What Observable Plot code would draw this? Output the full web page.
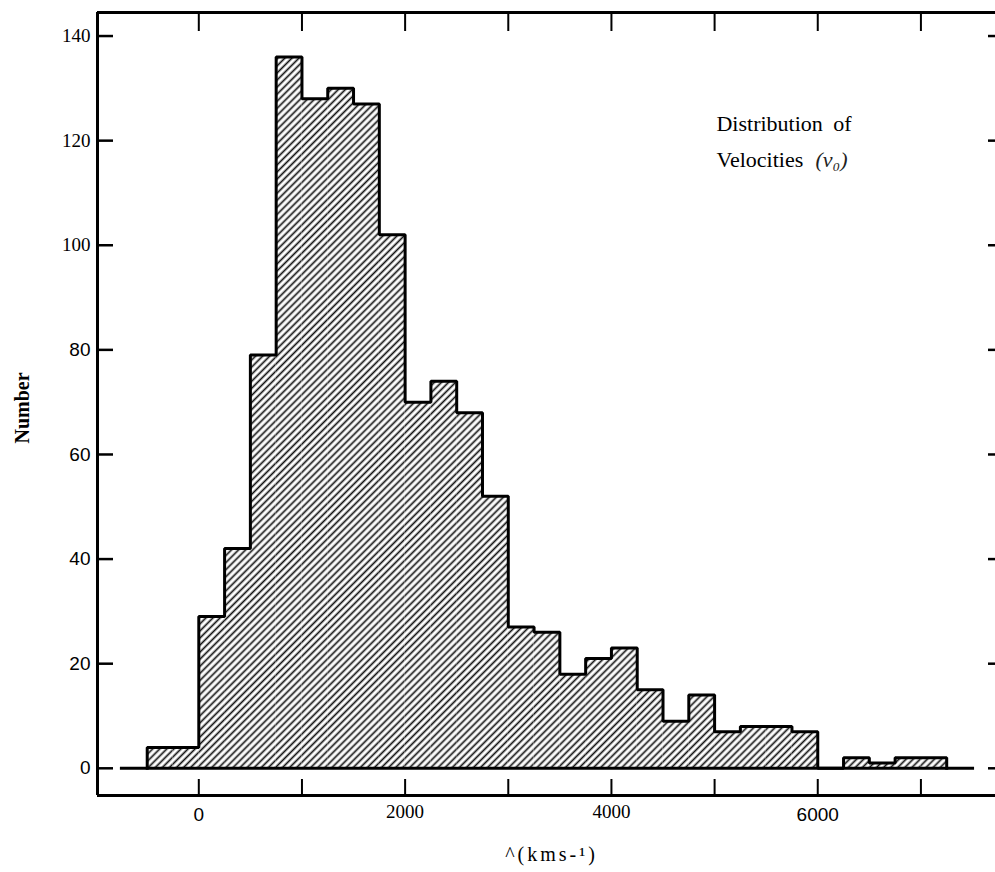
<!DOCTYPE html>
<html>
<head>
<meta charset="utf-8">
<script src="https://cdn.jsdelivr.net/npm/d3@7"></script>
<script src="https://cdn.jsdelivr.net/npm/@observablehq/plot@0.6"></script>
<style>
  html, body { margin: 0; padding: 0; background: #fff; }
  #chart svg { display: block; }
</style>
</head>
<body>
<div id="chart"></div>
<script>
// ---- data ----
const binStarts = [-500, -250, 0, 250, 500, 750, 1000, 1250, 1500, 1750, 2000, 2250, 2500, 2750, 3000, 3250, 3500, 3750, 4000, 4250, 4500, 4750, 5000, 5250, 5500, 5750, 6000, 6250, 6500, 6750, 7000];
const binEnds   = [-250, 0, 250, 500, 750, 1000, 1250, 1500, 1750, 2000, 2250, 2500, 2750, 3000, 3250, 3500, 3750, 4000, 4250, 4500, 4750, 5000, 5250, 5500, 5750, 6000, 6250, 6500, 6750, 7000, 7250];
const counts    = [4, 4, 29, 42, 79, 136, 128, 130, 127, 102, 70, 74, 68, 52, 27, 26, 18, 21, 23, 15, 9, 14, 7, 8, 8, 7, 0, 2, 1, 2, 2];

const yTicks = [0, 20, 40, 60, 80, 100, 120, 140];
const yTickLabelsSans = [0, 20, 40, 60, 80];
const yTickLabelsSerif = [100, 120, 140];
const xTicks = [0, 1000, 2000, 3000, 4000, 5000, 6000, 7000];
const xTickLabelsSans = [0, 6000];
const xTickLabelsSerif = [2000, 4000];

const xLabel = "^(kms-\u00B9)";
const yLabel = "Number";
const noteLine1 = "Distribution of";
const noteLine2a = "Velocities";
const noteLine2b = "(v\u2080)";

// ---- layout ----
const xDomain = [-982, 7723];
const yDomain = [-5.2, 144.5];
const baselineExtent = [-760, 7520];
const noteX = 5018;
const noteY1 = 123.1;
const noteY2 = 116.4;

const serif = "'Liberation Serif', 'Times New Roman', Times, serif";
const sans = "'Liberation Sans', Arial, Helvetica, sans-serif";

const bins = binStarts.map((s, i) => ({x1: s, x2: binEnds[i], n: counts[i]}));
const outline = [{x: binStarts[0], y: 0}];
bins.forEach(b => { outline.push({x: b.x1, y: b.n}); outline.push({x: b.x2, y: b.n}); });
outline.push({x: binEnds[binEnds.length - 1], y: 0});

const chart = Plot.plot({
  width: 995,
  height: 872,
  marginLeft: 97,
  marginRight: 0,
  marginTop: 12,
  marginBottom: 77,
  x: {domain: xDomain},
  y: {domain: yDomain},
  style: {background: "#fff", color: "#000", fontFamily: serif},
  marks: [
    Plot.rectY(bins, {x1: "x1", x2: "x2", y: "n", fill: "url(#hatch)"}),
    Plot.line(outline, {x: "x", y: "y", stroke: "#000", strokeWidth: 3, strokeLinejoin: "miter", strokeLinecap: "square"}),
    Plot.ruleY([0], {x1: baselineExtent[0], x2: baselineExtent[1], stroke: "#000", strokeWidth: 3}),
    // frame (left, bottom, top)
    Plot.ruleX([xDomain[0]], {y1: yDomain[0], y2: yDomain[1], stroke: "#000", strokeWidth: 3}),
    Plot.ruleY([yDomain[0], yDomain[1]], {stroke: "#000", strokeWidth: 3}),
    // inward ticks
    Plot.axisY(yTicks, {anchor: "left", tickSize: -16, tickFormat: () => "", strokeWidth: 2.5, label: null}),
    Plot.axisY(yTicks, {anchor: "right", tickSize: -8, tickFormat: () => "", strokeWidth: 2.5, label: null}),
    Plot.axisX(xTicks, {anchor: "bottom", tickSize: -16, tickFormat: () => "", strokeWidth: 2, label: null}),
    Plot.axisX(xTicks, {anchor: "top", tickSize: -18, tickFormat: () => "", strokeWidth: 2, label: null}),
    // tick labels
    Plot.axisY(yTickLabelsSans, {anchor: "left", tickSize: 0, tickPadding: 7, fontSize: 19, fontFamily: sans, tickFormat: "d", label: null}),
    Plot.axisY(yTickLabelsSerif, {anchor: "left", tickSize: 0, tickPadding: 7, fontSize: 19, fontFamily: serif, tickFormat: "d", label: null}),
    Plot.axisX(xTickLabelsSans, {anchor: "bottom", tickSize: 0, tickPadding: 12, fontSize: 19, fontFamily: sans, tickFormat: "d", label: null}),
    Plot.axisX(xTickLabelsSerif, {anchor: "bottom", tickSize: 0, tickPadding: 9, fontSize: 19, fontFamily: serif, tickFormat: "d", label: null}),
    // axis titles
    Plot.text([yLabel], {frameAnchor: "left", textAnchor: "middle", lineAnchor: "middle", rotate: -90, dx: -75, dy: 4, fontSize: 20, fontWeight: "bold", fontFamily: serif, fill: "#000"}),
    Plot.text([xLabel], {frameAnchor: "bottom", textAnchor: "middle", lineAnchor: "middle", dx: 5, dy: 59, fontSize: 20, fontFamily: serif, fill: "#000"}),
    // annotation
    Plot.text([noteLine1], {x: () => noteX, y: () => noteY1, textAnchor: "start", fontSize: 22, fontFamily: serif, fill: "#000"}),
    Plot.text([noteLine2a], {x: () => noteX, y: () => noteY2, textAnchor: "start", fontSize: 22, fontFamily: serif, fill: "#000"}),
    Plot.text([noteLine2b], {x: () => noteX, y: () => noteY2, dx: 99, textAnchor: "start", fontSize: 22, fontStyle: "italic", fontFamily: serif, fill: "#222"})
  ]
});

// hatch pattern
const svg = d3.select(chart);
const defs = svg.insert("defs", ":first-child");
const pat = defs.append("pattern")
  .attr("id", "hatch")
  .attr("patternUnits", "userSpaceOnUse")
  .attr("width", 5)
  .attr("height", 5)
  .attr("patternTransform", "rotate(45)");
pat.append("rect").attr("width", 5).attr("height", 5).attr("fill", "#fff");
pat.append("line").attr("x1", 2.5).attr("y1", 0).attr("x2", 2.5).attr("y2", 5)
  .attr("stroke", "#111").attr("stroke-width", 1.7);

// fonts: per-label families (the scan mixes Times and Helvetica digits)
const sansLabels = new Set([...yTickLabelsSans, ...xTickLabelsSans].map(String));
svg.selectAll("text").each(function() {
  const t = this.textContent;
  this.style.fontFamily = sansLabels.has(t) ? sans : serif;
});
svg.selectAll("text").filter(function() { return this.textContent === xLabel; }).attr("letter-spacing", 3);
svg.selectAll("text").filter(function() { return this.textContent === noteLine1; }).attr("word-spacing", 5);

document.getElementById("chart").appendChild(chart);
</script>
</body>
</html>
